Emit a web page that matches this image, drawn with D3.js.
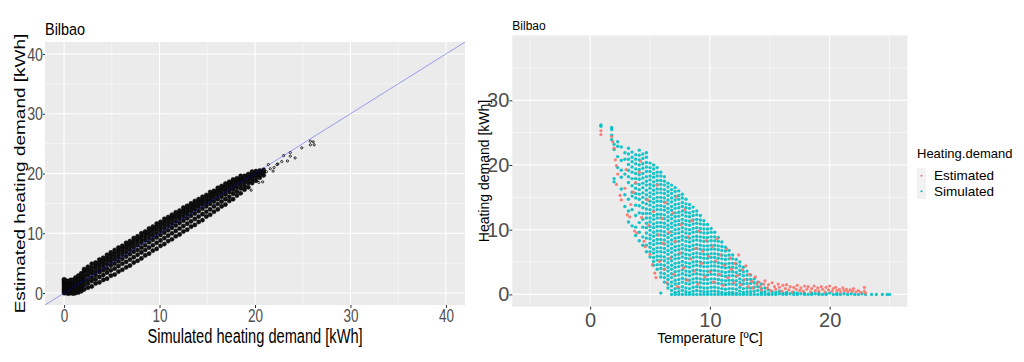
<!DOCTYPE html>
<html>
<head>
<meta charset="utf-8">
<script src="https://cdn.jsdelivr.net/npm/d3@7"></script>
<style>
  body { margin: 0; background: #fff; }
</style>
</head>
<body>
<svg id="chart" width="1024" height="362"></svg>
<script>
// ---- data ----
const leftTicks = [0, 10, 20, 30, 40];
const rightXTicks = [0, 10, 20];
const rightYTicks = [0, 10, 20, 30];
const seriesNames = ["Estimated", "Simulated"];

// simulated demand, then the estimated values seen at it
const fitColumns = [
  [0.0, 0.0, 0.3, 0.6, 0.9, 1.2, 1.5, 1.8, 2.1, 2.3],
  [0.2, 0.0, 0.3, 0.6, 0.9, 1.2, 1.5, 1.8, 2.1],
  [0.45, -0.1, 0.3, 0.6, 0.9, 1.2, 1.5, 1.8, 2.0],
  [0.7, 0.0, 0.3, 0.6, 0.9, 1.2, 1.5, 1.9, 2.2],
  [0.95, -0.1, 0.3, 0.7, 1.0, 1.4, 1.8, 2.2],
  [1.2, 0.0, 0.4, 0.8, 1.3, 1.7, 2.1, 2.6],
  [1.5, 0.1, 0.6, 1.1, 1.6, 2.0, 2.4, 2.9],
  [1.8, 0.3, 0.8, 1.3, 1.8, 2.3, 2.8, 3.3],
  [2.1, 0.6, 1.3, 1.9, 2.5, 3.0, 3.6, 4.0],
  [2.5, 0.9, 1.6, 2.2, 2.9, 3.4, 3.9, 4.4],
  [2.9, 1.1, 2.0, 2.6, 3.3, 3.8, 4.3, 4.9],
  [3.3, 1.6, 2.3, 3.0, 3.6, 4.2, 4.7, 5.1],
  [3.7, 1.8, 2.7, 3.5, 4.0, 4.6, 5.1, 5.6],
  [4.1, 2.2, 3.0, 3.8, 4.4, 5.0, 5.5, 5.9],
  [4.5, 2.4, 3.4, 4.1, 4.8, 5.4, 5.9, 6.4],
  [4.9, 2.9, 3.8, 4.6, 5.2, 5.8, 6.3, 6.8],
  [5.3, 3.1, 4.1, 4.9, 5.6, 6.2, 6.7, 7.2],
  [5.7, 3.6, 4.5, 5.3, 6.0, 6.6, 7.1, 7.6],
  [6.1, 3.9, 4.9, 5.7, 6.4, 7.0, 7.5, 7.9],
  [6.5, 4.3, 5.2, 6.1, 6.8, 7.4, 7.9, 8.4],
  [6.9, 4.6, 5.6, 6.5, 7.2, 7.8, 8.3, 8.7],
  [7.3, 5.1, 6.0, 6.9, 7.6, 8.2, 8.7, 9.2],
  [7.7, 5.4, 6.4, 7.2, 8.0, 8.6, 9.1, 9.5],
  [8.1, 5.8, 6.8, 7.6, 8.4, 9.0, 9.5, 10.0],
  [8.5, 6.3, 7.2, 8.0, 8.8, 9.4, 9.9, 10.3],
  [8.9, 6.6, 7.6, 8.5, 9.2, 9.8, 10.3, 10.8],
  [9.3, 7.1, 8.0, 8.9, 9.6, 10.2, 10.7, 11.1],
  [9.7, 7.4, 8.4, 9.3, 10.0, 10.6, 11.1, 11.6],
  [10.1, 7.9, 8.8, 9.7, 10.4, 11.0, 11.5, 11.9],
  [10.5, 8.2, 9.2, 10.1, 10.8, 11.4, 11.9, 12.4],
  [10.9, 8.7, 9.6, 10.5, 11.2, 11.8, 12.3, 12.7],
  [11.3, 9.0, 10.0, 10.9, 11.6, 12.2, 12.7, 13.1],
  [11.7, 9.5, 10.4, 11.3, 12.0, 12.6, 13.0, 13.5],
  [12.1, 9.8, 10.8, 11.7, 12.4, 13.0, 13.4, 13.8],
  [12.5, 10.3, 11.2, 12.1, 12.8, 13.4, 13.8, 14.3],
  [12.9, 10.6, 11.6, 12.5, 13.2, 13.7, 14.2, 14.6],
  [13.3, 11.1, 12.0, 12.9, 13.6, 14.1, 14.6, 15.0],
  [13.7, 11.4, 12.4, 13.3, 14.0, 14.5, 14.9, 15.4],
  [14.1, 11.9, 12.8, 13.7, 14.4, 14.9, 15.3, 15.7],
  [14.5, 12.2, 13.2, 14.1, 14.8, 15.3, 15.7, 16.1],
  [14.9, 12.8, 13.6, 14.5, 15.1, 15.6, 16.1, 16.4],
  [15.3, 13.1, 14.0, 14.9, 15.5, 16.0, 16.4, 16.9],
  [15.7, 13.6, 14.5, 15.3, 15.9, 16.4, 16.8, 17.1],
  [16.1, 14.0, 14.9, 15.7, 16.3, 16.8, 17.2, 17.6],
  [16.5, 14.5, 15.3, 16.1, 16.7, 17.2, 17.6, 17.9],
  [16.9, 14.8, 15.7, 16.5, 17.1, 17.6, 17.9, 18.3],
  [17.3, 15.4, 16.1, 16.9, 17.4, 17.9, 18.3, 18.6],
  [17.7, 15.7, 16.6, 17.3, 17.8, 18.3, 18.6, 19.0],
  [18.1, 16.3, 17.0, 17.7, 18.2, 18.6, 19.0, 19.2],
  [18.5, 16.7, 17.5, 18.1, 18.6, 19.0, 19.3, 19.6],
  [18.9, 17.3, 17.9, 18.5, 18.9, 19.3, 19.6],
  [19.3, 17.7, 18.4, 18.9, 19.3, 19.7, 19.9],
  [19.7, 18.4, 18.9, 19.3, 19.7, 20.0, 20.3],
  [20.1, 18.8, 19.4, 19.8, 20.1, 20.4],
  [20.5, 19.3, 19.8, 20.2, 20.5],
  [20.9, 19.7, 20.2, 20.6]
];
const fitTail = [
  [19.6, 17.2], [20.4, 18.5], [20.8, 18.6], [21.2, 20.3], [21.4, 21.5], [21.6, 20.8],
  [21.9, 20.4], [22.0, 21.0], [22.3, 21.5], [22.4, 21.6], [22.8, 22.0], [23.0, 23.0],
  [23.4, 22.1], [23.7, 23.5], [23.7, 22.9], [24.2, 22.6], [24.9, 24.3], [25.8, 25.4],
  [26.1, 25.3], [25.8, 24.8], [26.2, 24.8]
];

// temperature, then the simulated demands at it
const simulatedColumns = [
  [0.9, 26.2, 26.0],
  [1.8, 25.8, 25.5, 24.6, 23.9],
  [2.0, 23.2, 22.4, 17.9, 17.4],
  [2.3, 23.6, 22.9, 21.3, 19.6],
  [2.6, 22.8, 20.7, 19.2, 18.1, 16.3],
  [2.9, 21.9, 20.9, 18.6, 15.4, 13.6],
  [3.2, 22.6, 21.7, 20.9, 20.1, 19.2, 18.2, 17.3, 14.7, 12.9, 11.2],
  [3.5, 22.0, 21.2, 20.5, 19.7, 18.9, 17.9, 16.8, 15.8, 15.2, 13.1, 10.6],
  [3.8, 21.6, 20.9, 20.2, 19.4, 18.7, 17.9, 17.2, 16.4, 15.6, 14.9, 13.8, 12.2, 10.4, 9.1],
  [4.1, 22.3, 21.5, 20.8, 20.0, 19.3, 18.5, 17.8, 17.0, 16.2, 15.5, 14.7, 13.7, 12.6, 11.1, 9.6, 8.3],
  [4.4, 21.7, 21.0, 20.2, 19.5, 18.7, 18.0, 17.2, 16.5, 15.7, 15.0, 14.2, 13.4, 12.5, 11.6, 10.4, 8.9, 7.6],
  [4.7, 21.9, 21.2, 20.4, 19.7, 19.0, 18.2, 17.5, 16.9, 16.1, 15.4, 14.7, 14.0, 13.2, 12.5, 11.8, 11.0, 10.3, 9.5, 8.7, 7.6, 6.6],
  [5.0, 20.3, 19.6, 19.0, 18.3, 17.7, 17.0, 16.4, 15.7, 15.1, 14.4, 13.8, 13.1, 12.5, 11.8, 11.2, 10.5, 9.9, 9.2, 8.6, 7.9, 7.3, 6.6, 5.8],
  [5.3, 20.0, 19.4, 18.7, 18.1, 17.4, 16.8, 16.1, 15.5, 14.8, 14.2, 13.5, 12.9, 12.2, 11.6, 10.9, 10.3, 9.6, 9.0, 8.3, 7.7, 7.0, 6.4, 5.7, 5.1, 4.5],
  [5.6, 19.6, 18.9, 18.3, 17.6, 17.0, 16.3, 15.7, 15.0, 14.4, 13.7, 13.1, 12.4, 11.8, 11.1, 10.5, 9.8, 9.2, 8.5, 7.9, 7.2, 6.6, 5.9, 5.3, 4.6, 3.9],
  [5.9, 18.9, 18.3, 17.6, 17.0, 16.3, 15.7, 15.0, 14.4, 13.7, 13.1, 12.4, 11.8, 11.1, 10.5, 9.8, 9.2, 8.5, 7.9, 7.2, 6.6, 5.9, 5.3, 4.6, 4.0, 3.3, 2.7, 0.2],
  [6.2, 18.2, 17.5, 16.9, 16.2, 15.6, 14.9, 14.3, 13.6, 13.0, 12.3, 11.7, 11.0, 10.4, 9.7, 9.1, 8.4, 7.8, 7.1, 6.5, 5.8, 5.2, 4.5, 3.9, 3.2, 2.6, 1.9],
  [6.5, 17.2, 16.6, 15.9, 15.3, 14.6, 14.0, 13.3, 12.7, 12.0, 11.4, 10.7, 10.1, 9.4, 8.8, 8.1, 7.5, 6.8, 6.2, 5.5, 4.9, 4.2, 3.6, 2.9, 2.3, 1.6, 1.0],
  [6.8, 16.9, 16.2, 15.6, 14.9, 14.3, 13.6, 13.0, 12.3, 11.7, 11.0, 10.4, 9.7, 9.1, 8.4, 7.8, 7.1, 6.5, 5.8, 5.2, 4.5, 3.9, 3.2, 2.6, 1.9, 1.3, 0.6, 0.0],
  [7.1, 16.5, 15.9, 15.2, 14.6, 13.9, 13.3, 12.6, 12.0, 11.3, 10.7, 10.0, 9.4, 8.7, 8.1, 7.4, 6.8, 6.1, 5.5, 4.8, 4.2, 3.5, 2.9, 2.2, 1.6, 0.9, 0.3, 0.0],
  [7.4, 16.0, 15.3, 14.7, 14.0, 13.4, 12.7, 12.1, 11.4, 10.8, 10.1, 9.5, 8.8, 8.2, 7.5, 6.9, 6.2, 5.6, 4.9, 4.3, 3.6, 3.0, 2.3, 1.7, 1.0, 0.4, 0.0],
  [7.7, 15.5, 14.9, 14.2, 13.6, 12.9, 12.3, 11.6, 11.0, 10.3, 9.7, 9.0, 8.4, 7.7, 7.1, 6.4, 5.8, 5.1, 4.5, 3.8, 3.2, 2.5, 1.9, 1.2, 0.6, 0.0],
  [8.0, 14.7, 14.0, 13.4, 12.7, 12.1, 11.4, 10.8, 10.1, 9.5, 8.8, 8.2, 7.5, 6.9, 6.2, 5.6, 4.9, 4.3, 3.6, 3.0, 2.3, 1.7, 1.0, 0.4, 0.0],
  [8.3, 13.9, 13.3, 12.6, 12.0, 11.3, 10.7, 10.0, 9.4, 8.7, 8.1, 7.4, 6.8, 6.1, 5.5, 4.8, 4.2, 3.5, 2.9, 2.2, 1.6, 0.9, 0.3, 0.0],
  [8.6, 13.5, 12.8, 12.2, 11.5, 10.9, 10.2, 9.6, 8.9, 8.3, 7.6, 7.0, 6.3, 5.7, 5.0, 4.4, 3.7, 3.1, 2.4, 1.8, 1.1, 0.5, 0.0],
  [8.9, 12.9, 12.3, 11.6, 11.0, 10.3, 9.7, 9.0, 8.4, 7.7, 7.1, 6.4, 5.8, 5.1, 4.5, 3.8, 3.2, 2.5, 1.9, 1.2, 0.6, 0.0],
  [9.2, 12.2, 11.5, 10.9, 10.2, 9.6, 8.9, 8.3, 7.6, 7.0, 6.3, 5.7, 5.0, 4.4, 3.7, 3.1, 2.4, 1.8, 1.1, 0.5, 0.0],
  [9.5, 11.4, 10.8, 10.1, 9.5, 8.8, 8.2, 7.5, 6.9, 6.2, 5.6, 4.9, 4.3, 3.6, 3.0, 2.3, 1.7, 1.0, 0.4, 0.0],
  [9.8, 10.8, 10.1, 9.5, 8.8, 8.2, 7.5, 6.9, 6.2, 5.6, 4.9, 4.3, 3.6, 3.0, 2.3, 1.7, 1.0, 0.4, 0.0],
  [10.1, 10.2, 9.6, 8.9, 8.3, 7.6, 7.0, 6.3, 5.7, 5.0, 4.4, 3.7, 3.1, 2.4, 1.8, 1.1, 0.5, 0.0],
  [10.4, 9.6, 8.9, 8.3, 7.6, 7.0, 6.3, 5.7, 5.0, 4.4, 3.7, 3.1, 2.4, 1.8, 1.1, 0.5, 0.0],
  [10.7, 8.8, 8.2, 7.5, 6.9, 6.2, 5.6, 4.9, 4.3, 3.6, 3.0, 2.3, 1.7, 1.0, 0.4, 0.0],
  [11.0, 8.1, 7.4, 6.8, 6.1, 5.5, 4.8, 4.2, 3.5, 2.9, 2.2, 1.6, 0.9, 0.3, 0.0],
  [11.3, 7.3, 6.7, 6.0, 5.4, 4.7, 4.1, 3.4, 2.8, 2.1, 1.5, 0.8, 0.2, 0.0],
  [11.6, 6.8, 6.1, 5.5, 4.8, 4.2, 3.5, 2.9, 2.2, 1.6, 0.9, 0.3, 0.0],
  [11.9, 6.1, 5.5, 4.8, 4.2, 3.5, 2.9, 2.2, 1.6, 0.9, 0.3, 0.0],
  [12.2, 5.4, 4.7, 4.1, 3.4, 2.8, 2.1, 1.5, 0.8, 0.2, 0.0],
  [12.5, 5.0, 4.4, 3.7, 3.1, 2.4, 1.8, 1.1, 0.5, 0.0],
  [12.8, 4.2, 3.5, 2.9, 2.2, 1.6, 0.9, 0.3, 0.0],
  [13.1, 3.6, 3.0, 2.3, 1.7, 1.0, 0.4, 0.0],
  [13.4, 3.0, 2.3, 1.7, 1.0, 0.4, 0.0],
  [13.7, 2.4, 1.8, 1.1, 0.5, 0.0],
  [14.0, 1.9, 1.2, 0.6, 0.0],
  [14.3, 1.6, 0.9, 0.3, 0.0],
  [14.6, 1.0, 0.4, 0.0],
  [14.9, 0.7, 0.1, 0.0],
  [15.2, 0.4, 0.0], [15.5, 0.3, 0.0], [15.8, 0.5, 0.1], [16.1, 0.2, 0.0], [16.4, 0.3, 0.0],
  [16.7, 0.1], [17.0, 0.3, 0.0], [17.3, 0.2, 0.0], [17.6, 0.1], [17.9, 0.2, 0.0],
  [18.2, 0.0], [18.5, 0.2, 0.0], [18.8, 0.1], [19.1, 0.2, 0.0], [19.4, 0.0],
  [19.7, 0.1, 0.0], [20.0, 0.2], [20.3, 0.0], [20.6, 0.1, 0.0], [20.9, 0.0],
  [21.2, 0.1], [21.5, 0.0], [21.8, 0.1], [22.1, 0.0], [22.4, 0.0], [22.7, 0.1],
  [23.0, 0.0], [23.5, 0.0], [23.9, 0.0], [24.4, 0.0], [24.8, 0.0], [25.0, 0.0]
];

// temperature, estimated demand
const estimatedPoints = [
  [0.9, 25.3], [0.9, 24.7], [1.8, 24.4], [1.9, 23.6], [2.0, 22.6], [2.1, 20.8], [2.2, 19.9],
  [2.3, 18.6], [2.2, 17.0], [2.5, 15.3], [2.6, 14.6], [2.9, 16.4], [3.0, 19.3], [3.1, 12.3],
  [3.3, 12.0], [3.4, 13.9], [3.6, 15.8], [3.7, 9.8], [3.9, 9.5], [3.8, 17.3], [4.1, 18.9],
  [4.2, 20.6], [4.3, 11.9], [4.5, 8.2], [4.6, 7.4], [4.8, 14.6], [4.9, 10.7], [5.0, 6.2],
  [5.2, 4.6], [5.3, 12.8], [5.4, 3.3], [5.5, 2.6], [5.6, 16.9], [5.7, 9.2], [5.8, 5.1],
  [6.0, 11.7], [6.1, 7.9], [6.2, 3.9], [6.3, 14.2], [6.4, 1.8], [6.6, 9.6], [6.7, 5.6],
  [6.9, 12.6], [7.0, 3.1], [7.1, 8.2], [7.2, 15.1], [7.3, 1.2], [7.5, 6.4], [7.6, 10.8],
  [7.8, 4.1], [7.9, 13.1], [8.1, 2.2], [8.2, 8.9], [8.4, 5.5], [8.5, 11.4], [8.7, 3.6],
  [8.8, 7.1], [9.0, 1.6], [9.1, 9.8], [9.3, 4.8], [9.4, 6.7], [9.6, 2.7], [9.7, 8.3],
  [9.9, 5.9], [10.0, 3.5], [10.2, 7.4], [10.3, 1.9], [10.5, 5.2], [10.6, 8.6], [10.8, 3.1],
  [10.9, 6.1], [11.1, 1.4], [11.2, 4.5], [11.4, 7.0], [11.5, 2.6], [11.7, 5.6], [11.8, 3.9],
  [12.0, 1.8], [12.1, 4.8], [12.3, 2.9], [12.4, 6.1], [12.6, 1.5], [12.7, 3.8], [12.9, 2.3],
  [13.0, 4.4], [13.2, 1.2], [13.3, 3.1], [13.5, 2.0], [13.6, 1.0], [13.8, 2.7], [13.9, 1.6],
  [14.1, 1.9], [14.2, 1.2], [14.3, 0.7], [14.5, 1.6], [14.6, 2.1], [14.8, 1.0], [14.9, 1.5],
  [15.1, 0.6], [15.2, 1.8], [15.4, 1.2], [15.5, 0.8], [15.7, 1.6], [15.8, 1.1], [16.0, 0.5],
  [16.1, 1.4], [16.3, 0.9], [16.4, 1.5], [16.6, 0.7], [16.7, 1.2], [16.9, 0.4], [17.0, 1.1],
  [17.2, 0.8], [17.3, 1.4], [17.5, 0.6], [17.6, 1.0], [17.8, 0.5], [17.9, 1.3], [18.1, 0.8],
  [18.2, 1.2], [18.4, 0.4], [18.5, 0.9], [18.7, 1.3], [18.8, 0.6], [19.0, 1.0], [19.1, 0.5],
  [19.3, 1.2], [19.4, 0.8], [19.6, 0.4], [19.7, 1.1], [19.9, 0.7], [20.0, 1.3], [20.2, 0.5],
  [20.3, 0.9], [20.5, 1.1], [20.6, 0.6], [20.8, 0.8], [20.9, 0.4], [21.1, 1.0], [21.2, 0.6],
  [21.4, 0.8], [21.5, 0.4], [21.7, 0.7], [21.9, 0.5], [22.0, 0.9], [22.2, 0.4], [22.4, 0.6],
  [22.6, 0.3], [22.9, 1.1], [22.9, 0.5], [23.0, 0.2]
];

// ---- drawing ----
const font = "'Liberation Sans', Arial, sans-serif";
const svg = d3.select("#chart");
const sq = 0.75; // left plot was squeezed sideways

// ggplot style panel: grey background, white major + minor grid
function drawPanel(g, x, y, xMajor, yMajor) {
  const [x0, x1] = x.range(), [y0, y1] = y.range();
  g.append("rect").attr("x", x0).attr("y", y1)
    .attr("width", x1 - x0).attr("height", y0 - y1).attr("fill", "#EBEBEB");
  const minor = (sc, major) => {
    const [a, b] = sc.domain();
    return d3.range(Math.ceil(a / 5) * 5, b, 5).filter(v => !major.includes(v));
  };
  minor(x, xMajor).forEach(v => g.append("line").attr("x1", x(v)).attr("x2", x(v))
    .attr("y1", y0).attr("y2", y1).attr("stroke", "#fff").attr("stroke-width", 0.5));
  minor(y, yMajor).forEach(v => g.append("line").attr("y1", y(v)).attr("y2", y(v))
    .attr("x1", x0).attr("x2", x1).attr("stroke", "#fff").attr("stroke-width", 0.5));
  xMajor.forEach(v => g.append("line").attr("x1", x(v)).attr("x2", x(v))
    .attr("y1", y0).attr("y2", y1).attr("stroke", "#fff").attr("stroke-width", 1.1));
  yMajor.forEach(v => g.append("line").attr("y1", y(v)).attr("y2", y(v))
    .attr("x1", x0).attr("x2", x1).attr("stroke", "#fff").attr("stroke-width", 1.1));
}

function styleAxis(ax, size) {
  ax.attr("font-family", font).attr("font-size", size);
  ax.select(".domain").remove();
  ax.selectAll("line").attr("stroke", "#333");
  ax.selectAll("text").attr("fill", "#4D4D4D");
}

// ---------- left: estimated vs simulated ----------
const lx = d3.scaleLinear().domain([-2, 42]).range([45, 465]);
const ly = d3.scaleLinear().domain([-2, 42]).range([305, 42]);
const gl = svg.append("g");
drawPanel(gl, lx, ly, leftTicks, leftTicks);

svg.append("clipPath").attr("id", "clipL").append("rect")
  .attr("x", 45).attr("y", 42).attr("width", 420).attr("height", 263);

const fitPoints = fitColumns.flatMap(([s, ...est]) => est.map(e => [s, e]));
const lp = gl.append("g").attr("clip-path", "url(#clipL)");
lp.selectAll("circle.col").data(fitPoints).join("circle").attr("class", "col")
  .attr("cx", d => lx(d[0])).attr("cy", d => ly(d[1])).attr("r", 2.1)
  .attr("fill", "#111").attr("stroke", "#000").attr("stroke-width", 0.5);
lp.selectAll("circle.tail").data(fitTail).join("circle").attr("class", "tail")
  .attr("cx", d => lx(d[0])).attr("cy", d => ly(d[1])).attr("r", 1.1)
  .attr("fill", "none").attr("stroke", "#000").attr("stroke-width", 0.8);

gl.append("line").attr("clip-path", "url(#clipL)")
  .attr("x1", lx(-2)).attr("y1", ly(-2)).attr("x2", lx(42)).attr("y2", ly(42))
  .attr("stroke", "#0000ff").attr("stroke-opacity", 0.35).attr("stroke-width", 1);

const lxAxis = gl.append("g").attr("transform", "translate(0,305)")
  .call(d3.axisBottom(lx).tickValues(leftTicks).tickSize(3).tickPadding(1));
styleAxis(lxAxis, 18);
lxAxis.selectAll("text").attr("transform", `scale(${sq},1)`);

const lyAxis = gl.append("g").attr("transform", "translate(45,0)")
  .call(d3.axisLeft(ly).tickValues(leftTicks).tickSize(2).tickPadding(0));
styleAxis(lyAxis, 19);
lyAxis.selectAll("text").attr("x", -2 / sq).attr("transform", `scale(${sq},1)`);

gl.append("text").attr("transform", `translate(45,34.5) scale(0.85,1)`)
  .attr("font-family", font).attr("font-size", 17).attr("fill", "#000").text("Bilbao");
gl.append("text").attr("transform", `translate(255,343) scale(${sq},1)`)
  .attr("text-anchor", "middle").attr("font-family", font).attr("font-size", 19.5)
  .attr("fill", "#000").text("Simulated heating demand [kWh]");
gl.append("text").attr("transform", `translate(25,173.5) scale(${sq},1) rotate(-90)`)
  .attr("text-anchor", "middle").attr("font-family", font).attr("font-size", 19)
  .attr("fill", "#000").text("Estimated heating demand [kWh]");

// ---------- right: demand vs temperature ----------
const rx = d3.scaleLinear().domain([-6.5, 26.5]).range([512.3, 907.5]);
const ry = d3.scaleLinear().domain([-1.9, 40.1]).range([306.7, 35]);
const color = d3.scaleOrdinal().domain(seriesNames).range(["#F8766D", "#00BFC4"]);
const gr = svg.append("g");
drawPanel(gr, rx, ry, rightXTicks, rightYTicks);

svg.append("clipPath").attr("id", "clipR").append("rect")
  .attr("x", 512.3).attr("y", 35).attr("width", 395.2).attr("height", 271.7);

const simPoints = simulatedColumns.flatMap(([t, ...v]) => v.map(d => [t, d]));
const pts = gr.append("g").attr("clip-path", "url(#clipR)");
pts.selectAll("circle.sim").data(simPoints).join("circle").attr("class", "sim")
  .attr("cx", d => rx(d[0])).attr("cy", d => ry(d[1])).attr("r", 1.7)
  .attr("fill", color("Simulated")).attr("fill-opacity", 0.9);
pts.selectAll("circle.est").data(estimatedPoints).join("circle").attr("class", "est")
  .attr("cx", d => rx(d[0])).attr("cy", d => ry(d[1])).attr("r", 1.6)
  .attr("fill", color("Estimated")).attr("fill-opacity", 0.9);

const rxAxis = gr.append("g").attr("transform", "translate(0,306.7)")
  .call(d3.axisBottom(rx).tickValues(rightXTicks).tickSize(3).tickPadding(3));
styleAxis(rxAxis, 20);
const ryAxis = gr.append("g").attr("transform", "translate(512.3,0)")
  .call(d3.axisLeft(ry).tickValues(rightYTicks).tickSize(3).tickPadding(0));
styleAxis(ryAxis, 20);

gr.append("text").attr("x", 512.3).attr("y", 30)
  .attr("font-family", font).attr("font-size", 12).attr("fill", "#000").text("Bilbao");
gr.append("text").attr("x", rx(10)).attr("y", 342.5).attr("text-anchor", "middle")
  .attr("font-family", font).attr("font-size", 14).attr("fill", "#000").text("Temperature [ºC]");
gr.append("text").attr("transform", "translate(489,171) rotate(-90)").attr("text-anchor", "middle")
  .attr("font-family", font).attr("font-size", 14).attr("fill", "#000").text("Heating demand [kWh]");

// legend
const lg = svg.append("g").attr("transform", "translate(917,0)");
lg.append("text").attr("x", 0).attr("y", 158.3).attr("font-family", font)
  .attr("font-size", 13).attr("fill", "#000").text("Heating.demand");
const keys = lg.selectAll("g.key").data(seriesNames).join("g").attr("class", "key")
  .attr("transform", (d, i) => `translate(0,${168 + i * 15.5})`);
keys.append("rect").attr("width", 9).attr("height", 15.5).attr("fill", "#F2F2F2");
keys.append("circle").attr("cx", 4.5).attr("cy", 7.75).attr("r", 1.1).attr("fill", d => color(d));
keys.append("text").attr("x", 17).attr("y", 12.2).attr("font-family", font)
  .attr("font-size", 13.5).attr("fill", "#000").text(d => d);
</script>
</body>
</html>
